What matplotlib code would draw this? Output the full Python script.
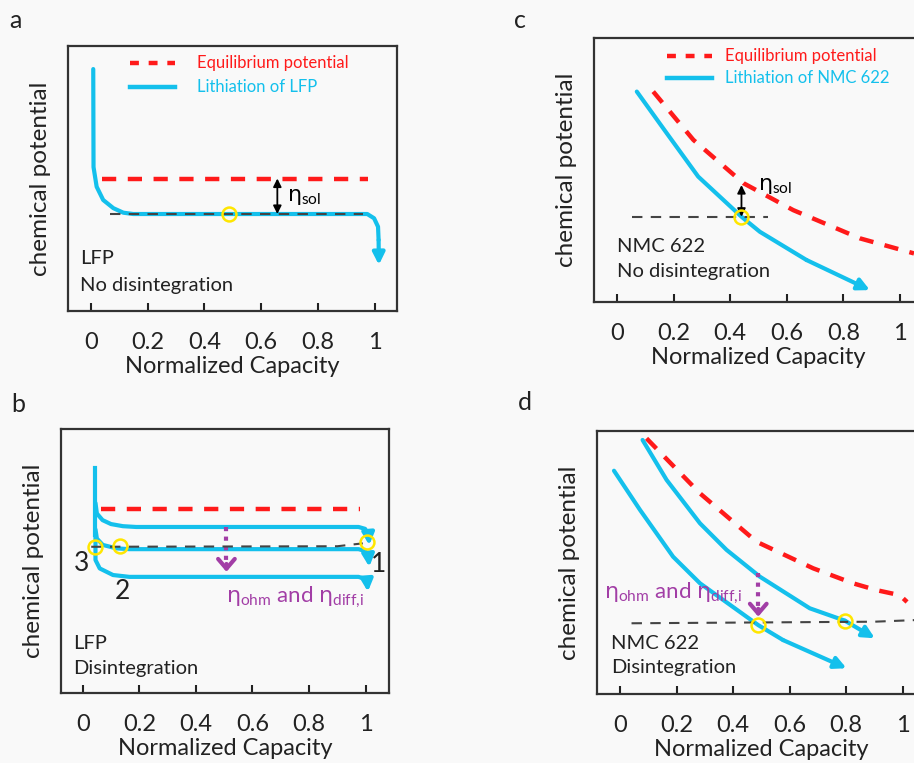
import matplotlib
matplotlib.use('Agg')
import matplotlib.pyplot as plt

plt.rcParams['font.family'] = ['Lato', 'DejaVu Sans']
plt.rcParams['mathtext.fontset'] = 'custom'
plt.rcParams['mathtext.rm'] = 'Lato'
plt.rcParams['mathtext.it'] = 'DejaVu Sans'

CYAN = '#14c0ec'
RED = '#ff1a1a'
YELLOW = '#ffe600'
PURPLE = '#a23ea6'
GRAY = '#444444'

cap_ticks = [0, 0.2, 0.4, 0.6, 0.8, 1]
cap_labels = ['0', '0.2', '0.4', '0.6', '0.8', '1']

# panel a: LFP, no disintegration
a_lith_x = [0.008, 0.009, 0.020, 0.043, 0.079, 0.114, 0.149, 0.974, 0.998, 1.012, 1.014, 1.015]
a_lith_y = [0.913, 0.543, 0.469, 0.419, 0.388, 0.371, 0.366, 0.366, 0.350, 0.318, 0.268, 0.174]
a_eq_x = [0.04, 0.975]
a_eq_y = [0.50, 0.50]
a_ref_x = [0.067, 0.96]
a_ref_y = [0.366, 0.366]
a_mark = (0.488, 0.366)

# panel b: LFP, disintegration (three particles)
b_stem_x = [0.045, 0.045]
b_stem_y = [0.851, 0.60]
b_top_x = [0.045, 0.050, 0.070, 0.100, 0.142, 0.189, 0.975, 0.998, 1.010, 1.013]
b_top_y = [0.720, 0.680, 0.655, 0.640, 0.632, 0.629, 0.629, 0.622, 0.600, 0.560]
b_mid_x = [0.045, 0.050, 0.071, 0.119, 0.165, 0.975, 0.998, 1.010, 1.013]
b_mid_y = [0.620, 0.585, 0.561, 0.548, 0.545, 0.545, 0.538, 0.515, 0.478]
b_bot_x = [0.045, 0.045, 0.060, 0.107, 0.165, 0.975, 0.996, 1.006, 1.008]
b_bot_y = [0.600, 0.504, 0.472, 0.447, 0.440, 0.440, 0.433, 0.412, 0.384]
b_eq_x = [0.066, 0.98]
b_eq_y = [0.696, 0.696]
b_ref_x = [0.03, 0.90, 0.99]
b_ref_y = [0.554, 0.556, 0.567]
b_marks_x = [0.045, 0.133, 1.005]
b_marks_y = [0.554, 0.557, 0.573]
b_drop_x = 0.508
b_drop_y = (0.63, 0.459)

# panel c: NMC 622, no disintegration
c_lith_x = [0.07, 0.176, 0.287, 0.44, 0.505, 0.67, 0.894]
c_lith_y = [0.797, 0.639, 0.475, 0.323, 0.266, 0.159, 0.045]
c_eq_x = [0.128, 0.27, 0.447, 0.623, 0.859, 1.05]
c_eq_y = [0.797, 0.614, 0.45, 0.348, 0.241, 0.184]
c_ref_x = [0.052, 0.535]
c_ref_y = [0.323, 0.323]
c_mark = (0.44, 0.323)

# panel d: NMC 622, disintegration
d_eq_x = [0.094, 0.283, 0.483, 0.683, 0.824, 0.907, 0.989, 1.015]
d_eq_y = [0.972, 0.763, 0.579, 0.478, 0.421, 0.395, 0.376, 0.350]
d_up_x = [0.08, 0.165, 0.283, 0.377, 0.495, 0.671, 0.795, 0.901]
d_up_y = [0.966, 0.814, 0.649, 0.548, 0.446, 0.326, 0.279, 0.212]
d_lo_x = [-0.021, 0.071, 0.188, 0.283, 0.489, 0.577, 0.801]
d_lo_y = [0.849, 0.700, 0.522, 0.421, 0.262, 0.205, 0.098]
d_ref_x = [0.041, 0.90, 1.04]
d_ref_y = [0.269, 0.275, 0.281]
d_marks_x = [0.489, 0.795]
d_marks_y = [0.262, 0.279]
d_drop_x = 0.489
d_drop_y = (0.459, 0.294)

DARK = '#222222'
ETA2 = r'$\eta_{\mathrm{ohm}}$ and $\eta_{\mathrm{diff{,}i}}$'


def setup(ax, x0):
    ax.set_facecolor('#f9f9f9')
    ax.set_xlim(x0, x0 + 1.16)
    ax.set_ylim(0, 1)
    ax.set_yticks([])
    ax.set_xticks(cap_ticks)
    ax.set_xticklabels(cap_labels)
    ax.tick_params(axis='x', direction='in', length=6, width=1.5, pad=15,
                   labelsize=17, colors=DARK)
    for s in ax.spines.values():
        s.set_linewidth(1.6)
        s.set_color('#333333')
    ax.set_xlabel('Normalized Capacity', fontsize=17, labelpad=2, color=DARK)
    ax.set_ylabel('chemical potential', fontsize=17.5, labelpad=12, color=DARK)


def cyan_arrow(ax, xs, ys):
    ax.plot(xs[:-1], ys[:-1], color=CYAN, lw=3, solid_capstyle='round')
    ax.annotate('', xy=(xs[-1], ys[-1]), xytext=(xs[-2], ys[-2]),
                arrowprops=dict(arrowstyle='-|>,head_length=0.5,head_width=0.25',
                                color=CYAN, lw=3, shrinkA=0, shrinkB=0,
                                mutation_scale=14))


def eq_line(ax, xs, ys):
    ax.plot(xs, ys, color=RED, lw=3.2, dashes=(3.2, 2.6))


def ref_line(ax, xs, ys):
    ax.plot(xs, ys, color=GRAY, lw=1.5, dashes=(5, 4), zorder=4)


def marks(ax, xs, ys):
    ax.plot(xs, ys, 'o', mfc='none', mec=YELLOW, ms=10, mew=1.8, zorder=5)


def legend(ax, x0, x1, xt, y1, y2, name):
    ax.plot([x0, x1], [y1, y1], color=RED, lw=3.2, dashes=(2.0, 2.2))
    ax.plot([x0, x1], [y2, y2], color=CYAN, lw=3.2)
    ax.text(xt, y1, 'Equilibrium potential', color=RED, fontsize=12, va='center')
    ax.text(xt, y2, name, color=CYAN, fontsize=12, va='center')


def drop_arrow(ax, x, ys):
    ax.plot([x, x], [ys[0], ys[1] + 0.02], color=PURPLE, lw=3, dashes=(1, 1.3))
    ax.annotate('', xy=(x, ys[1]), xytext=(x, ys[1] + 0.03),
                arrowprops=dict(arrowstyle='->,head_length=0.35,head_width=0.3',
                                color=PURPLE, lw=3, shrinkA=0, shrinkB=0,
                                mutation_scale=20))


def sol_arrow(ax, x, y0, y1):
    ax.annotate('', xy=(x, y1), xytext=(x, y0),
                arrowprops=dict(arrowstyle='<|-|>,head_length=0.4,head_width=0.2',
                                color='black', lw=1.3, shrinkA=0, shrinkB=0,
                                mutation_scale=12))


fig = plt.figure(figsize=(9.14, 7.63), dpi=100, facecolor='#f9f9f9')

ax_a = fig.add_axes([0.0744, 0.5924, 0.36, 0.3473])
ax_b = fig.add_axes([0.0667, 0.0917, 0.359, 0.346])
ax_c = fig.add_axes([0.650, 0.6042, 0.359, 0.346])
ax_d = fig.add_axes([0.6532, 0.0904, 0.359, 0.3447])

# a
setup(ax_a, -0.081)
eq_line(ax_a, a_eq_x, a_eq_y)
cyan_arrow(ax_a, a_lith_x, a_lith_y)
ref_line(ax_a, a_ref_x, a_ref_y)
marks(ax_a, [a_mark[0]], [a_mark[1]])
sol_arrow(ax_a, 0.657, 0.366, 0.50)
ax_a.text(0.69, 0.43, r'$\eta_{\mathrm{sol}}$', fontsize=16, va='center')
legend(ax_a, 0.138, 0.297, 0.375, 0.936, 0.845, 'Lithiation of LFP')
ax_a.text(-0.04, 0.2, 'LFP', fontsize=14.5, va='center', color=DARK)
ax_a.text(-0.04, 0.098, 'No disintegration', fontsize=14.5, va='center', color=DARK)

# b
setup(ax_b, -0.077)
eq_line(ax_b, b_eq_x, b_eq_y)
ax_b.plot(b_stem_x, b_stem_y, color=CYAN, lw=3)
cyan_arrow(ax_b, b_top_x, b_top_y)
cyan_arrow(ax_b, b_mid_x, b_mid_y)
cyan_arrow(ax_b, b_bot_x, b_bot_y)
ref_line(ax_b, b_ref_x, b_ref_y)
marks(ax_b, b_marks_x, b_marks_y)
drop_arrow(ax_b, b_drop_x, b_drop_y)
ax_b.text(0.505, 0.365, ETA2, fontsize=16, va='center', color=PURPLE)
ax_b.text(-0.005, 0.49, '3', fontsize=19, ha='center', va='center', color=DARK)
ax_b.text(0.142, 0.384, '2', fontsize=19, ha='center', va='center', color=DARK)
ax_b.text(1.046, 0.485, '1', fontsize=19, ha='center', va='center', color=DARK)
ax_b.text(-0.035, 0.188, 'LFP', fontsize=14.5, va='center', color=DARK)
ax_b.text(-0.035, 0.094, 'Disintegration', fontsize=14.5, va='center', color=DARK)

# c
setup(ax_c, -0.081)
eq_line(ax_c, c_eq_x, c_eq_y)
cyan_arrow(ax_c, c_lith_x, c_lith_y)
ref_line(ax_c, c_ref_x, c_ref_y)
marks(ax_c, [c_mark[0]], [c_mark[1]])
sol_arrow(ax_c, 0.44, 0.323, 0.443)
ax_c.text(0.50, 0.44, r'$\eta_{\mathrm{sol}}$', fontsize=16, va='center')
legend(ax_c, 0.176, 0.335, 0.382, 0.93, 0.847, 'Lithiation of NMC 622')
ax_c.text(0.0, 0.21, 'NMC 622', fontsize=14.5, va='center', color=DARK)
ax_c.text(0.0, 0.115, 'No disintegration', fontsize=14.5, va='center', color=DARK)

# d
setup(ax_d, -0.081)
eq_line(ax_d, d_eq_x, d_eq_y)
cyan_arrow(ax_d, d_up_x, d_up_y)
cyan_arrow(ax_d, d_lo_x, d_lo_y)
ref_line(ax_d, d_ref_x, d_ref_y)
marks(ax_d, d_marks_x, d_marks_y)
drop_arrow(ax_d, d_drop_x, d_drop_y)
ax_d.text(-0.055, 0.383, ETA2, fontsize=16, va='center', color=PURPLE)
ax_d.text(-0.03, 0.193, 'NMC 622', fontsize=14.5, va='center', color=DARK)
ax_d.text(-0.03, 0.10, 'Disintegration', fontsize=14.5, va='center', color=DARK)

for letter, (px, py) in zip('abcd', [(15, 20), (18, 405), (520, 20), (525, 402)]):
    fig.text(px / 914, 1 - py / 763, letter, fontsize=18, ha='center', va='center',
             color=DARK)

fig.savefig('out.png', dpi=100, facecolor=fig.get_facecolor())
